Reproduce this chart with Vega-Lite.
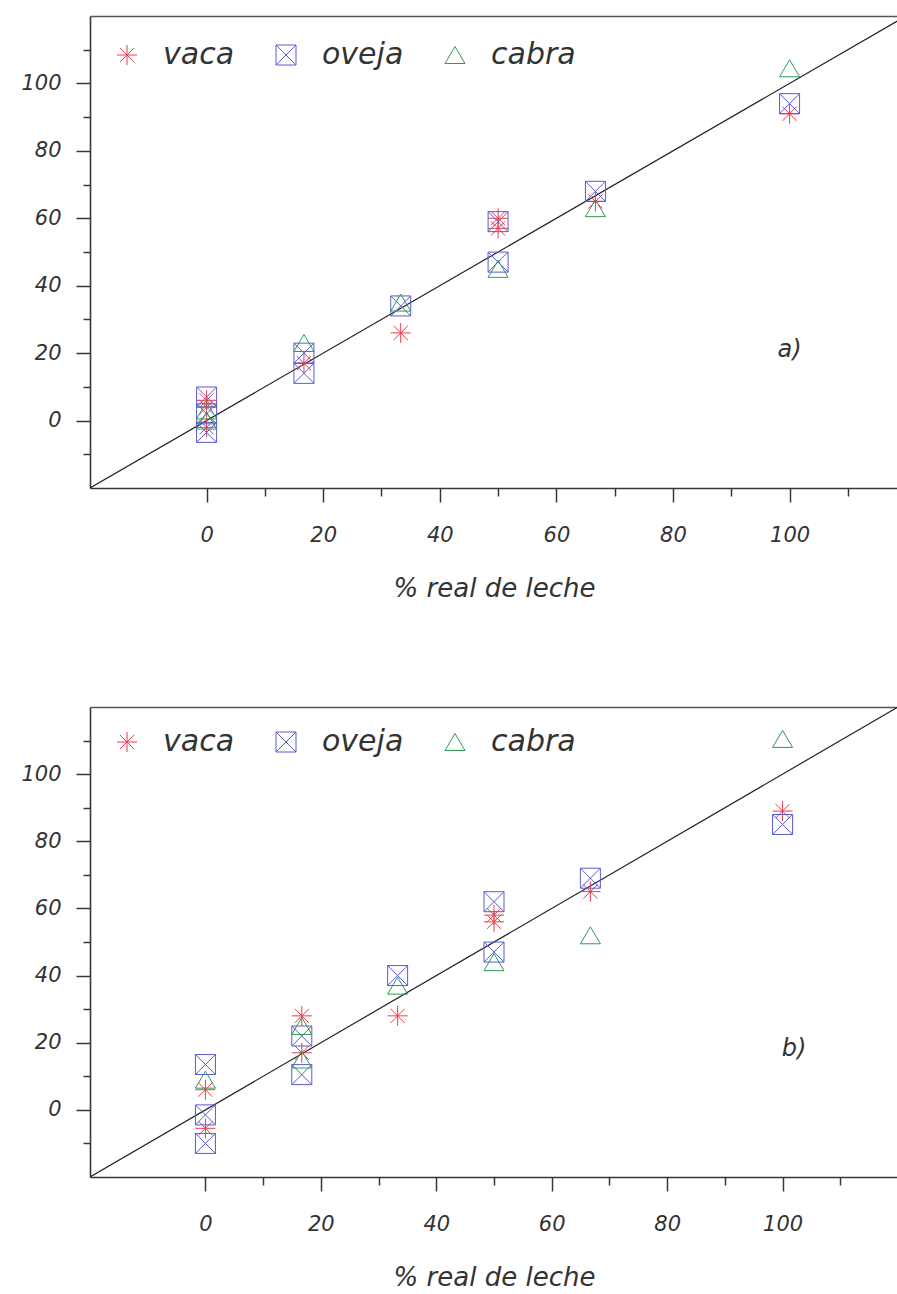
{
  "$schema": "https://vega.github.io/schema/vega-lite/v6.json",
  "background": "white",
  "padding": {"left": 20, "top": 16, "right": 0, "bottom": 0},
  "spacing": 106,
  "config": {
    "view": {"stroke": null},
    "axis": {
      "grid": false,
      "labelFont": "DejaVu Sans",
      "labelFontStyle": "italic",
      "labelFontSize": 21,
      "labelColor": "#333333",
      "titleFont": "DejaVu Sans",
      "titleFontStyle": "italic",
      "titleFontWeight": "normal",
      "titleFontSize": 26,
      "titleColor": "#333333",
      "domainColor": "#3d3434",
      "domainWidth": 1.6,
      "tickColor": "#3d3434",
      "tickWidth": 1.5
    },
    "legend": {
      "labelFont": "DejaVu Sans",
      "labelFontStyle": "italic",
      "labelFontSize": 30,
      "labelColor": "#333333",
      "symbolSize": 400,
      "symbolStrokeWidth": 1,
      "labelOffset": 21,
      "columnPadding": 36
    }
  },
  "datasets": {
    "a": [
      {"real": 0, "pred": 4, "leche": "vaca"},
      {"real": 0, "pred": -2, "leche": "vaca"},
      {"real": 0, "pred": 6, "leche": "vaca"},
      {"real": 16.7, "pred": 17, "leche": "vaca"},
      {"real": 33.3, "pred": 26, "leche": "vaca"},
      {"real": 50, "pred": 60, "leche": "vaca"},
      {"real": 50, "pred": 57, "leche": "vaca"},
      {"real": 66.7, "pred": 65, "leche": "vaca"},
      {"real": 100, "pred": 91, "leche": "vaca"},
      {"real": 0, "pred": 7, "leche": "oveja"},
      {"real": 0, "pred": -3.5, "leche": "oveja"},
      {"real": 0, "pred": 2, "leche": "oveja"},
      {"real": 16.7, "pred": 20, "leche": "oveja"},
      {"real": 16.7, "pred": 14, "leche": "oveja"},
      {"real": 33.3, "pred": 34, "leche": "oveja"},
      {"real": 50, "pred": 59, "leche": "oveja"},
      {"real": 50, "pred": 47, "leche": "oveja"},
      {"real": 66.7, "pred": 68, "leche": "oveja"},
      {"real": 100, "pred": 94, "leche": "oveja"},
      {"real": 0, "pred": 3, "leche": "cabra"},
      {"real": 0, "pred": 0, "leche": "cabra"},
      {"real": 16.7, "pred": 23, "leche": "cabra"},
      {"real": 33.3, "pred": 35, "leche": "cabra"},
      {"real": 50, "pred": 45, "leche": "cabra"},
      {"real": 66.7, "pred": 63, "leche": "cabra"},
      {"real": 100, "pred": 104.5, "leche": "cabra"}
    ],
    "b": [
      {"real": 0, "pred": 6, "leche": "vaca"},
      {"real": 0, "pred": -5.5, "leche": "vaca"},
      {"real": 16.7, "pred": 28, "leche": "vaca"},
      {"real": 16.7, "pred": 17, "leche": "vaca"},
      {"real": 33.3, "pred": 28, "leche": "vaca"},
      {"real": 50, "pred": 58, "leche": "vaca"},
      {"real": 50, "pred": 56, "leche": "vaca"},
      {"real": 66.7, "pred": 65, "leche": "vaca"},
      {"real": 100, "pred": 89, "leche": "vaca"},
      {"real": 0, "pred": 13.5, "leche": "oveja"},
      {"real": 0, "pred": -1.5, "leche": "oveja"},
      {"real": 0, "pred": -10, "leche": "oveja"},
      {"real": 16.7, "pred": 22, "leche": "oveja"},
      {"real": 16.7, "pred": 10.5, "leche": "oveja"},
      {"real": 33.3, "pred": 40, "leche": "oveja"},
      {"real": 50, "pred": 62, "leche": "oveja"},
      {"real": 50, "pred": 47, "leche": "oveja"},
      {"real": 66.7, "pred": 69, "leche": "oveja"},
      {"real": 100, "pred": 85, "leche": "oveja"},
      {"real": 0, "pred": 9, "leche": "cabra"},
      {"real": 16.7, "pred": 25, "leche": "cabra"},
      {"real": 16.7, "pred": 15, "leche": "cabra"},
      {"real": 33.3, "pred": 37, "leche": "cabra"},
      {"real": 50, "pred": 44, "leche": "cabra"},
      {"real": 66.7, "pred": 52, "leche": "cabra"},
      {"real": 100, "pred": 110.5, "leche": "cabra"}
    ],
    "diag": [
      {"real": -20, "pred": -20},
      {"real": 120, "pred": 120}
    ],
    "labA": [{"real": 100, "pred": 21, "t": "a)"}],
    "labB": [{"real": 102, "pred": 18, "t": "b)"}]
  },
  "vconcat": [
    {
      "width": 808,
      "height": 472,
      "layer": [
        {
          "data": {"name": "diag"},
          "mark": {"type": "line", "color": "#222222", "strokeWidth": 1.2, "clip": true},
          "encoding": {
            "x": {"field": "real", "type": "quantitative", "scale": {"domain": [-20, 118.6], "nice": false, "zero": false},
                  "axis": {"orient": "top", "labels": false, "ticks": false, "title": null, "domainColor": "#555555", "domainWidth": 1.5}},
            "y": {"field": "pred", "type": "quantitative", "scale": {"domain": [-20, 120], "nice": false, "zero": false},
                  "axis": {"title": null, "values": [-10, 0, 10, 20, 30, 40, 50, 60, 70, 80, 90, 100, 110],
                           "labelExpr": "datum.value % 20 === 0 ? datum.label : ''",
                           "tickSize": {"condition": {"test": "datum.value % 20 === 0", "value": 14}, "value": 7},
                           "labelPadding": 15}}
          }
        },
        {
          "data": {"name": "a"},
          "mark": {"type": "point", "filled": false, "strokeWidth": 1, "size": 400, "opacity": 1},
          "encoding": {
            "x": {"field": "real", "type": "quantitative",
                  "axis": {"orient": "bottom", "title": "% real de leche", "values": [0, 10, 20, 30, 40, 50, 60, 70, 80, 90, 100, 110],
                           "labelExpr": "datum.value % 20 === 0 ? datum.label : ''",
                           "tickSize": {"condition": {"test": "datum.value % 20 === 0", "value": 14}, "value": 8},
                           "labelPadding": 22, "titlePadding": 30}},
            "y": {"field": "pred", "type": "quantitative",
                  "axis": {"title": null, "values": [-10, 0, 10, 20, 30, 40, 50, 60, 70, 80, 90, 100, 110],
                           "labelExpr": "datum.value % 20 === 0 ? datum.label : ''",
                           "tickSize": {"condition": {"test": "datum.value % 20 === 0", "value": 14}, "value": 7},
                           "labelPadding": 15}},
            "shape": {"field": "leche", "type": "nominal",
                      "scale": {"domain": ["vaca", "oveja", "cabra"],
                                "range": ["M-1,0L1,0M0,-1L0,1M-0.71,-0.71L0.71,0.71M-0.71,0.71L0.71,-0.71",
                                          "M-1,-1L1,-1L1,1L-1,1ZM-1,-1L1,1M-1,1L1,-1",
                                          "M0,-0.85L1,0.85L-1,0.85Z"]},
                      "legend": {"orient": "none", "legendX": 22, "legendY": 24, "direction": "horizontal", "title": null}},
            "color": {"field": "leche", "type": "nominal",
                      "scale": {"domain": ["vaca", "oveja", "cabra"], "range": ["#ec3c4c", "#5a5ad0", "#2e9a55"]},
                      "legend": {"orient": "none", "legendX": 22, "legendY": 24, "direction": "horizontal", "title": null}}
          }
        },
        {
          "data": {"name": "labA"},
          "mark": {"type": "text", "font": "DejaVu Sans", "fontStyle": "italic", "fontSize": 24, "color": "#333333"},
          "encoding": {
            "x": {"field": "real", "type": "quantitative", "axis": null},
            "y": {"field": "pred", "type": "quantitative",
                  "axis": {"title": null, "values": [-10, 0, 10, 20, 30, 40, 50, 60, 70, 80, 90, 100, 110],
                           "labelExpr": "datum.value % 20 === 0 ? datum.label : ''",
                           "tickSize": {"condition": {"test": "datum.value % 20 === 0", "value": 14}, "value": 7},
                           "labelPadding": 15}},
            "text": {"field": "t"}
          }
        }
      ],
      "resolve": {"axis": {"x": "independent"}}
    },
    {
      "width": 808,
      "height": 470,
      "layer": [
        {
          "data": {"name": "diag"},
          "mark": {"type": "line", "color": "#222222", "strokeWidth": 1.2, "clip": true},
          "encoding": {
            "x": {"field": "real", "type": "quantitative", "scale": {"domain": [-20, 120], "nice": false, "zero": false},
                  "axis": {"orient": "top", "labels": false, "ticks": false, "title": null, "domainColor": "#555555", "domainWidth": 1.5}},
            "y": {"field": "pred", "type": "quantitative", "scale": {"domain": [-20, 120], "nice": false, "zero": false},
                  "axis": {"title": null, "values": [-10, 0, 10, 20, 30, 40, 50, 60, 70, 80, 90, 100, 110],
                           "labelExpr": "datum.value % 20 === 0 ? datum.label : ''",
                           "tickSize": {"condition": {"test": "datum.value % 20 === 0", "value": 14}, "value": 7},
                           "labelPadding": 15}}
          }
        },
        {
          "data": {"name": "b"},
          "mark": {"type": "point", "filled": false, "strokeWidth": 1, "size": 400, "opacity": 1},
          "encoding": {
            "x": {"field": "real", "type": "quantitative",
                  "axis": {"orient": "bottom", "title": "% real de leche", "values": [0, 10, 20, 30, 40, 50, 60, 70, 80, 90, 100, 110],
                           "labelExpr": "datum.value % 20 === 0 ? datum.label : ''",
                           "tickSize": {"condition": {"test": "datum.value % 20 === 0", "value": 14}, "value": 8},
                           "labelPadding": 22, "titlePadding": 30}},
            "y": {"field": "pred", "type": "quantitative",
                  "axis": {"title": null, "values": [-10, 0, 10, 20, 30, 40, 50, 60, 70, 80, 90, 100, 110],
                           "labelExpr": "datum.value % 20 === 0 ? datum.label : ''",
                           "tickSize": {"condition": {"test": "datum.value % 20 === 0", "value": 14}, "value": 7},
                           "labelPadding": 15}},
            "shape": {"field": "leche", "type": "nominal",
                      "scale": {"domain": ["vaca", "oveja", "cabra"],
                                "range": ["M-1,0L1,0M0,-1L0,1M-0.71,-0.71L0.71,0.71M-0.71,0.71L0.71,-0.71",
                                          "M-1,-1L1,-1L1,1L-1,1ZM-1,-1L1,1M-1,1L1,-1",
                                          "M0,-0.85L1,0.85L-1,0.85Z"]},
                      "legend": {"orient": "none", "legendX": 22, "legendY": 20, "direction": "horizontal", "title": null}},
            "color": {"field": "leche", "type": "nominal",
                      "scale": {"domain": ["vaca", "oveja", "cabra"], "range": ["#ec3c4c", "#5a5ad0", "#2e9a55"]},
                      "legend": {"orient": "none", "legendX": 22, "legendY": 20, "direction": "horizontal", "title": null}}
          }
        },
        {
          "data": {"name": "labB"},
          "mark": {"type": "text", "font": "DejaVu Sans", "fontStyle": "italic", "fontSize": 24, "color": "#333333"},
          "encoding": {
            "x": {"field": "real", "type": "quantitative", "axis": null},
            "y": {"field": "pred", "type": "quantitative",
                  "axis": {"title": null, "values": [-10, 0, 10, 20, 30, 40, 50, 60, 70, 80, 90, 100, 110],
                           "labelExpr": "datum.value % 20 === 0 ? datum.label : ''",
                           "tickSize": {"condition": {"test": "datum.value % 20 === 0", "value": 14}, "value": 7},
                           "labelPadding": 15}},
            "text": {"field": "t"}
          }
        }
      ],
      "resolve": {"axis": {"x": "independent"}}
    }
  ],
  "resolve": {"scale": {"x": "independent", "y": "independent", "shape": "independent", "color": "independent"},
              "legend": {"shape": "independent", "color": "independent"}}
}
